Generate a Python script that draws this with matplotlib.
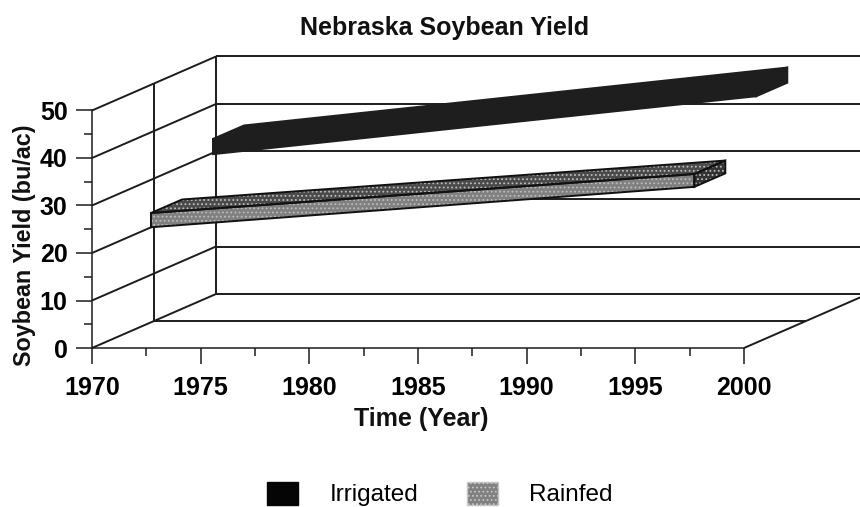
import matplotlib
matplotlib.use('Agg')
import matplotlib.pyplot as plt
from matplotlib.patches import Patch, Polygon

plt.rcParams['font.family'] = ['Liberation Sans', 'DejaVu Sans']
plt.rcParams['hatch.linewidth'] = 0.8

# valores
years = [1972, 1997]
irrigated_low = [33.7, 45.9]
irrigated_high = [36.9, 49.1]
rainfed_low = [24.0, 32.5]
rainfed_high = [27.0, 35.2]
yield_ticks = [0, 10, 20, 30, 40, 50]
year_ticks = [1970, 1975, 1980, 1985, 1990, 1995, 2000]

W, H = 860, 507
fig = plt.figure(figsize=(W / 100, H / 100), dpi=100)
ax = fig.add_axes([92 / W, 1 - 348 / H, (744 - 92) / W, (348 - 110.5) / H])
ax.set_xlim(1970, 2000)
ax.set_ylim(0, 50)

# desplazamiento de profundidad en unidades de datos
depth_x = 124 / (652 / 30)
depth_y = 54 / (237.5 / 50)
line = '#1c1c1c'


def proj(x, y, d):
    return x + d * depth_x, y + d * depth_y


def seg(p, q, lw=1.4):
    ax.plot([p[0], q[0]], [p[1], q[1]], color=line, lw=lw, clip_on=False, zorder=1,
            solid_capstyle='butt')


# paredes y rejilla
for v in yield_ticks:
    seg(proj(1970, v, 0), proj(1970, v, 1))
    seg(proj(1970, v, 1), proj(2000, v, 1))
seg(proj(1970, 0, 1), proj(1970, 50, 1))
seg(proj(1970, 0, 0.5), proj(1970, 50, 0.5))
seg(proj(1970, 0, 0.5), proj(2000, 0, 0.5))
seg(proj(2000, 0, 0), proj(2000, 0, 1))


def ribbon(low, high, d0, d1, front, top, side, hatch, edge):
    x0, x1 = years
    faces = [
        ([proj(x0, high[0], d0), proj(x0, high[0], d1), proj(x1, high[1], d1), proj(x1, high[1], d0)], top),
        ([proj(x1, low[1], d0), proj(x1, low[1], d1), proj(x1, high[1], d1), proj(x1, high[1], d0)], side),
        ([proj(x0, low[0], d0), proj(x1, low[1], d0), proj(x1, high[1], d0), proj(x0, high[0], d0)], front),
    ]
    for pts, col in faces:
        ax.add_patch(Polygon(pts, closed=True, facecolor=col, edgecolor='#bdbdbd' if hatch else col,
                             hatch=hatch, lw=0, clip_on=False, zorder=3))
        ax.add_patch(Polygon(pts, closed=True, fill=False, edgecolor=edge, lw=1.4,
                             clip_on=False, zorder=4))


ribbon(rainfed_low, rainfed_high, 0.125, 0.375, '#808080', '#4a4a4a', '#333333', '....', '#111111')
ribbon(irrigated_low, irrigated_high, 0.625, 0.875, '#1e1e1e', '#1e1e1e', '#1e1e1e', None, '#1e1e1e')

# ejes
for s in ['top', 'right']:
    ax.spines[s].set_visible(False)
for s in ['left', 'bottom']:
    ax.spines[s].set_color(line)
    ax.spines[s].set_linewidth(1.1)
ax.patch.set_alpha(0)
ax.set_xticks(year_ticks)
ax.set_xticks([y + 2.5 for y in year_ticks[:-1]], minor=True)
ax.set_yticks(yield_ticks)
ax.set_yticks([v + 5 for v in yield_ticks[:-1]], minor=True)
ax.tick_params(axis='x', which='major', length=11.5, width=1.1, color=line, pad=8.5, labelsize=18)
ax.tick_params(axis='x', which='minor', length=5.5, width=1.1, color=line)
ax.tick_params(axis='y', which='major', length=11.5, width=1.1, color=line, pad=6, labelsize=18)
ax.tick_params(axis='y', which='minor', length=5.5, width=1.1, color=line)
for lab in ax.get_xticklabels() + ax.get_yticklabels():
    lab.set_fontweight('bold')

fig.text(445 / W, 1 - 28 / H, 'Nebraska Soybean Yield', ha='center', va='center',
         fontsize=18, fontweight='bold', color='#111111')
fig.text(421 / W, 1 - 419 / H, 'Time (Year)', ha='center', va='center',
         fontsize=18, fontweight='bold', color='#111111')
fig.text(25 / W, 1 - 245 / H, 'Soybean Yield (bu/ac)', ha='center', va='center', rotation=90,
         fontsize=16.8, fontweight='bold', color='#111111')

handles = [Patch(facecolor='#050505', edgecolor='#050505', label='Irrigated'),
           Patch(facecolor='#808080', edgecolor='#c4c4c4', hatch='....', label='Rainfed')]
fig.legend(handles=handles, loc='center', bbox_to_anchor=(440 / W, 1 - 494 / H), ncol=2, frameon=False,
           fontsize=17.5, handlelength=1.28, handleheight=1.1, handletextpad=1.28, columnspacing=2.0,
           borderpad=0, borderaxespad=0)

fig.savefig('out.png', dpi=100)
plt.close()
